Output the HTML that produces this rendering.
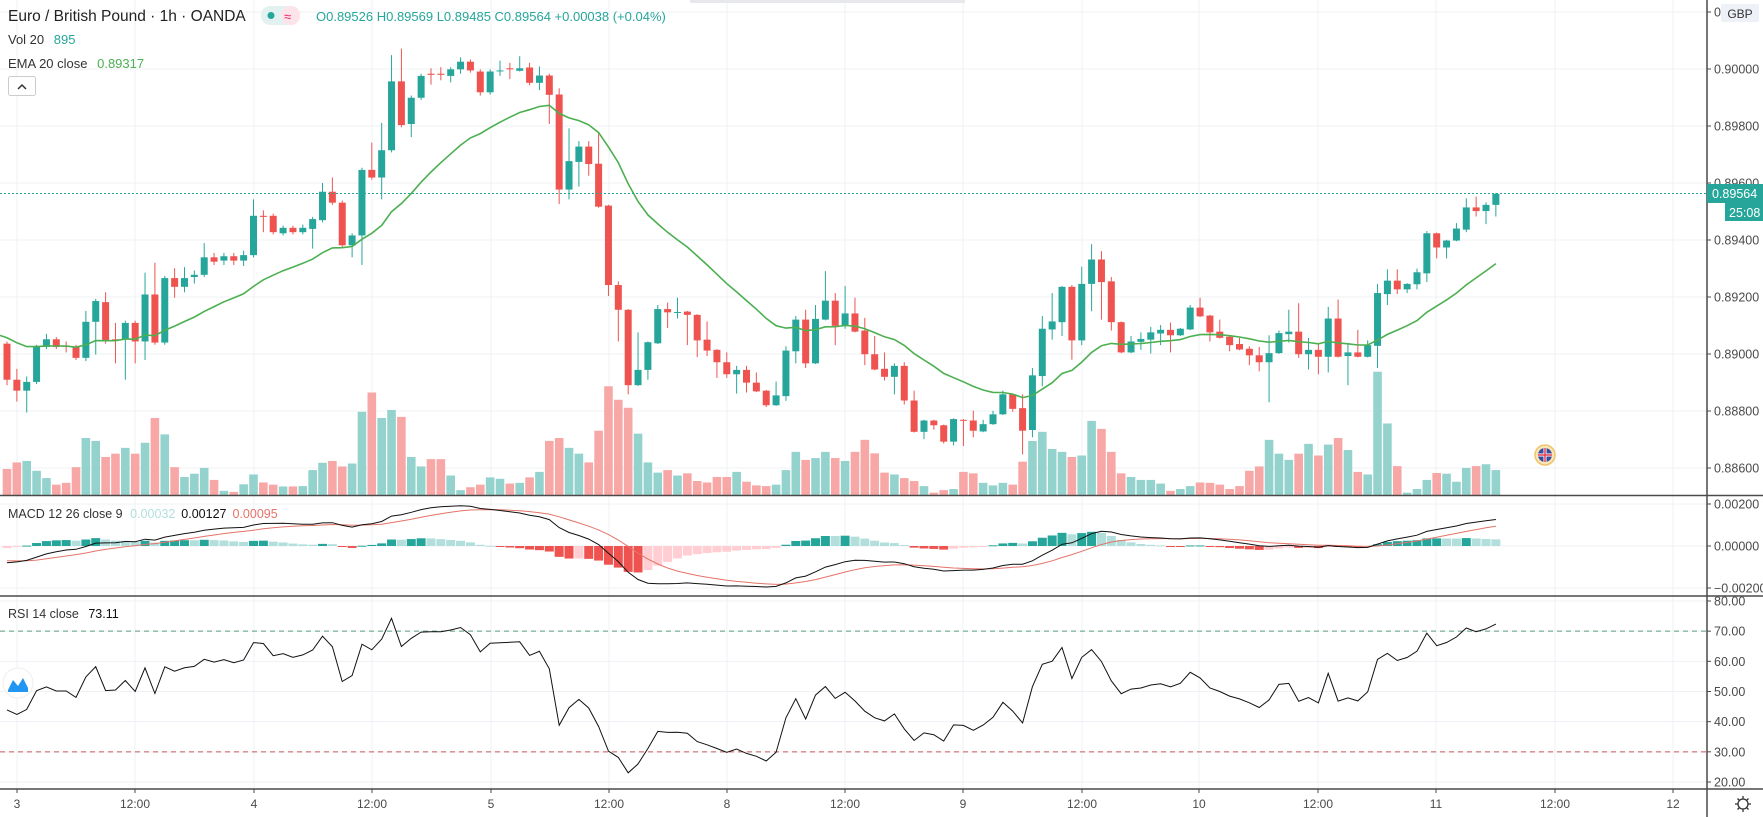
<!DOCTYPE html>
<html><head><meta charset="utf-8">
<style>
html,body{margin:0;padding:0;background:#fff;width:1763px;height:817px;overflow:hidden}
svg{display:block}
text{font-family:"Liberation Sans",sans-serif}
</style></head>
<body>
<svg id="s" width="1763" height="817" xmlns="http://www.w3.org/2000/svg"></svg>
<script>
const S=document.getElementById('s');
let out='';
function add(x){out+=x;}
const toReal=yz=>30+yz/2.745;
const c1=[[317,350,315,355],[350,360,340,370],[360,352,347,380],[352,320,318,354],[320,313,308,322],[313,320,311,322],[319,320,315,325],[320,330,318,332],[330,297,287,333],[297,278,276,327],[279,315,270,317],[313,314,298,335],[313,298,296,350],[298,315,296,335],[315,272,252,332],[272,316,243,318],[316,257,255,318],[257,265,248,275],[265,257,247,270],[256,254,250,262],[254,238,225,256],[238,242,234,245],[241,237,234,245],[237,241,234,245],[241,236,232,246],[236,200,185,238],[200,201,195,215],[200,215,198,217],[216,211,209,218],[211,215,209,217],[215,211,208,217],[212,203,201,230],[204,178,170,206],[178,188,165,190],[188,227,186,229],[227,218,216,238],[218,158,156,245],[158,165,133,167],[165,140,115,185],[140,77,53,142],[77,117,47,119],[116,92,90,128],[92,72,70,94],[70,71,65,80],[70,71,64,76],[72,66,64,78],[66,59,55,70],[59,67,57,69],[68,87,66,90],[87,68,66,89],[67,67,58,72],[65,66,60,75]];
let C=c1.map(a=>a.map(r=>toReal((r-30)*3)));
const c2=[[112,105,72,114],[103,145,90,152],[145,125,100,165],[125,178,120,258],[177,438,160,478],[438,360,270,465],[362,320,305,430],[320,368,305,400],[367,485,280,488],[482,700,480,730],[700,768,690,855],[768,975,766,1000],[975,933,830,977],[933,857,855,960],[860,766,755,862],[766,775,748,818],[774,774,735,792],[773,782,771,865],[782,852,780,898],[850,880,800,895],[878,912,876,955],[912,945,885,955],[945,933,922,998],[933,968,922,995],[968,992,940,994],[990,1030,988,1035],[1030,1003,965,1032],[1005,880,868,1018],[882,795,785,915],[795,915,768,928],[915,793,755,917],[795,743,662,797],[743,812,722,865],[812,778,703,820],[778,828,735,830],[825,890,790,920],[890,932,840,934],[930,952,885,962],[952,922,915,1000],[922,1017,912,1028],[1017,1103,990,1105],[1103,1072,1070,1123],[1072,1085,1070,1097],[1085,1130,1083,1135],[1130,1068,1066,1140],[1070,1071,1068,1142],[1072,1100,1045,1118],[1102,1082,1070,1104],[1082,1055,1045,1084],[1055,1000,990,1057],[1000,1040,998,1048]];
const c3=[[1038,1100,1000,1165],[1098,948,928,1118],[950,820,785,978],[822,800,722,850],[802,705,703,840],[705,852,700,905],[852,697,650,865],[697,630,588,772],[630,692,607,795],[690,802,678,825],[802,885,800,887],[885,855,840,887],[856,848,830,878],[850,830,815,888],[833,823,810,865],[823,838,803,885],[838,820,818,840],[822,762,755,824],[762,786,735,788],[784,830,782,855],[828,845,795,847],[842,865,840,882],[862,877,845,879],[875,893,868,920],[893,912,870,937],[912,887,838,1022],[887,832,825,889],[835,828,768,858],[828,890,750,900],[890,878,845,932],[878,897,862,945],[897,792,760,940],[792,897,740,899],[895,885,862,975],[885,897,823,899],[897,865,852,899],[867,722,697,928],[725,688,657,755],[688,712,657,725],[712,697,695,722],[698,665,655,712],[668,558,552,692],[558,597,556,627],[597,578,576,627],[578,545,530,580],[548,487,462,555],[487,497,457,512],[497,480,473,533],[480,450,447,512]];
C=C.concat(c2.map(a=>a.map(toReal)),c3.map(a=>a.map(toReal)));
const V=[1205,1187,1183,1210,1230,1248,1243,1200,1120,1128,1172,1163,1147,1163,1133,1065,1110,1200,1227,1218,1202,1235,1265,1268,1247,1220,1242,1248,1253,1253,1252,1208,1188,1183,1198,1190,1048,995,1065,1043,1062,1172,1198,1178,1178,1223,1263,1255,1248,1228,1232,1245,1243,1228,1213,1128,1120,1147,1163,1187,1100,978,1015,1037,1108,1187,1215,1208,1223,1217,1238,1242,1227,1227,1213,1240,1250,1252,1248,1208,1158,1180,1175,1158,1175,1183,1158,1125,1162,1215,1220,1230,1238,1252,1270,1263,1260,1213,1217,1243,1250,1243,1248,1185,1128,1103,1150,1158,1172,1168,1073,1095,1158,1217,1227,1235,1235,1245,1265,1260,1252,1242,1243,1248,1260,1252,1210,1198,1125,1163,1180,1163,1136,1168,1138,1120,1153,1213,1220,938,1080,1197,1270,1260,1235,1216,1218,1240,1202,1197,1192,1208];
const N=C.length;
const X=i=>7+9.86*i;
const P=y=>0.9-(y-69)/57.1*0.002;
const Y=p=>69+(0.9-p)/0.002*57.1;
const W=1707;
let g='';
const times=[[17,'3'],[135,'12:00'],[254,'4'],[372,'12:00'],[491,'5'],[609,'12:00'],[727,'8'],[845,'12:00'],[963,'9'],[1082,'12:00'],[1199,'10'],[1318,'12:00'],[1436,'11'],[1555,'12:00'],[1673,'12']];
times.forEach(t=>{g+=`<line x1="${t[0]}" y1="0" x2="${t[0]}" y2="789" stroke="#eef1f6" stroke-width="1"/>`;});
const pt=[[12,'0'],[69,'0.90000'],[126,'0.89800'],[183,'0.89600'],[240,'0.89400'],[297,'0.89200'],[354,'0.89000'],[411,'0.88800'],[468,'0.88600']];
pt.forEach(t=>{g+=`<line x1="0" y1="${t[0]}" x2="${W}" y2="${t[0]}" stroke="#eef1f6"/>`;});
[504,546,588].forEach(y=>g+=`<line x1="0" y1="${y}" x2="${W}" y2="${y}" stroke="#eef1f6"/>`);
const RY=v=>782-(v-20)*3.017;
[80,70,60,50,40,30,20].forEach(v=>g+=`<line x1="0" y1="${RY(v)}" x2="${W}" y2="${RY(v)}" stroke="#eef1f6"/>`);
add(g);
for(let i=0;i<N;i++){const up=C[i][1]<=C[i][0];const t=toReal(V[i]);add(`<rect x="${X(i)-4.3}" y="${t}" width="8.6" height="${495.6-t}" fill="${up?'#94d3cd':'#f7a8a6'}"/>`);}
for(let i=0;i<N;i++){const [o,c,h,l]=C[i];const up=c<=o;const col=up?'#26a69a':'#ef5350';const x=X(i);
add(`<line x1="${x}" y1="${h}" x2="${x}" y2="${l}" stroke="${col}" stroke-width="1"/>`);
const top=Math.min(o,c),bh=Math.max(1,Math.abs(o-c));add(`<rect x="${x-3.5}" y="${top}" width="7" height="${bh}" fill="${col}"/>`);}
const cl=C.map(a=>P(a[1]));
let e=P(337.8),pts=[];const k=2/21;
for(let i=0;i<N;i++){if(i>0)e=cl[i]*k+e*(1-k);pts.push(`${X(i).toFixed(1)},${Y(e).toFixed(1)}`);}
add(`<polyline points="-10,${Y(P(332)).toFixed(1)} ${pts.join(' ')}" fill="none" stroke="#4caf50" stroke-width="1.6"/>`);
add(`<line x1="0" y1="193.5" x2="${W}" y2="193.5" stroke="#26a69a" stroke-dasharray="2,2" stroke-width="1"/>`);
let e12=cl[0]-0.0002,e26=cl[0]+0.0006,sig=-0.0007;const MY=v=>546-v/0.002*42;
let mp=[],sp=[],hist=[];
for(let i=0;i<N;i++){if(i>0){e12=cl[i]*2/13+e12*11/13;e26=cl[i]*2/27+e26*25/27;}
const m=e12-e26;if(i>0)sig=m*0.2+sig*0.8;mp.push(`${X(i).toFixed(1)},${MY(m).toFixed(1)}`);sp.push(`${X(i).toFixed(1)},${MY(sig).toFixed(1)}`);hist.push(m-sig);}
for(let i=0;i<N;i++){const h=hist[i],p=i>0?hist[i-1]:h;let col;
if(h>=0)col=h>=p?'#26a69a':'#b2dfdb';else col=h<p?'#ef5350':'#ffcdd2';
const y1=Math.min(546,MY(h)),hh=Math.max(1,Math.abs(MY(h)-546));add(`<rect x="${X(i)-4.5}" y="${y1}" width="9" height="${hh}" fill="${col}"/>`);}
add(`<polyline points="${sp.join(' ')}" fill="none" stroke="#e57368" stroke-width="1"/>`);
add(`<polyline points="${mp.join(' ')}" fill="none" stroke="#111" stroke-width="1"/>`);
add(`<line x1="0" y1="${RY(70)}" x2="${W}" y2="${RY(70)}" stroke="#5e9c7a" stroke-dasharray="5,4"/>`);
add(`<line x1="0" y1="${RY(30)}" x2="${W}" y2="${RY(30)}" stroke="#c8575a" stroke-dasharray="5,4"/>`);
let ag=0.00036,al=0.00046,rp=[];
for(let i=0;i<N;i++){if(i>0){const d=cl[i]-cl[i-1];ag=(ag*13+Math.max(d,0))/14;al=(al*13+Math.max(-d,0))/14;}
const r=al==0?100:100-100/(1+ag/al);rp.push(`${X(i).toFixed(1)},${RY(r).toFixed(1)}`);}
add(`<polyline points="${rp.join(' ')}" fill="none" stroke="#111" stroke-width="1"/>`);
add(`<rect x="${W}" y="0" width="56" height="817" fill="#fff"/>`);
add(`<rect x="0" y="789" width="1763" height="28" fill="#fff"/>`);
add(`<line x1="0" y1="495.5" x2="1763" y2="495.5" stroke="#4a4a4a" stroke-width="1.5"/>`);
add(`<line x1="0" y1="596" x2="1763" y2="596" stroke="#4a4a4a" stroke-width="1.5"/>`);
add(`<line x1="0" y1="789" x2="1763" y2="789" stroke="#4a4a4a" stroke-width="1.5"/>`);
add(`<line x1="${W}" y1="0" x2="${W}" y2="817" stroke="#4a4a4a" stroke-width="1.5"/>`);
const lab=(y,t)=>add(`<line x1="${W}" y1="${y}" x2="${W+4}" y2="${y}" stroke="#4a4a4a"/><text x="${W+7}" y="${y+4.5}" font-size="12.5" fill="#4a4a4a">${t}</text>`);
pt.forEach(t=>lab(t[0],t[1]));
lab(504,'0.00200');lab(546,'0.00000');lab(588,'\u22120.00200');
[80,70,60,50,40,30,20].forEach(v=>lab(RY(v),v+'.00'));
times.forEach(t=>add(`<line x1="${t[0]}" y1="789" x2="${t[0]}" y2="793" stroke="#4a4a4a"/><text x="${t[0]}" y="808" font-size="12" fill="#4a4a4a" text-anchor="middle">${t[1]}</text>`));
add(`<rect x="1721" y="4" width="38" height="18" rx="2" fill="#eef1f8"/><text x="1740" y="18" font-size="12" fill="#333" text-anchor="middle">GBP</text>`);
add(`<rect x="1707" y="184" width="56" height="19" fill="#26a69a"/><text x="1712" y="198" font-size="12.5" fill="#fff">0.89564</text>`);
add(`<rect x="1725" y="203" width="38" height="18" fill="#26a69a"/><text x="1729" y="217" font-size="12.5" fill="#fff">25:08</text>`);
add(`<circle cx="1743" cy="804" r="5" fill="none" stroke="#333" stroke-width="1.3"/><path d="M1743 796v3M1743 809v3M1735 804h3M1748 804h3M1737.5 798.5l2 2M1746.5 807.5l2 2M1748.5 798.5l-2 2M1737.5 809.5l2-2" stroke="#333" stroke-width="1.3"/>`);
add(`<circle cx="1545" cy="455" r="10" fill="#fbe6b8" stroke="#f0c56a" stroke-width="1.5"/><circle cx="1545" cy="455" r="7" fill="#3a4c9c"/><path d="M1538 455h14M1545 448v14" stroke="#fff" stroke-width="3"/><path d="M1538 455h14M1545 448v14" stroke="#e04050" stroke-width="1.5"/>`);
add(`<circle cx="18" cy="683" r="15" fill="#fff" stroke="#eee"/><path d="M8 690 L13 680 L18 686 L23 678 L28 688 L28 692 L8 692Z" fill="#2196f3"/>`);
add(`<rect x="690" y="0" width="275" height="3" fill="#e6e8ec"/>`);
add(`<text x="8" y="21" font-size="15.5" fill="#222">Euro / British Pound · 1h · OANDA</text>`);
add(`<rect x="261" y="6" width="39" height="19" rx="9" fill="#e3f2f0"/><rect x="281" y="6" width="19" height="19" rx="9" fill="#fde4ea"/><circle cx="271" cy="15.5" r="3.5" fill="#26a69a"/><text x="284" y="21" font-size="13" fill="#e91e63">≈</text>`);
add(`<text x="316" y="21" font-size="13" fill="#26a69a">O0.89526  H0.89569  L0.89485  C0.89564  +0.00038 (+0.04%)</text>`);
add(`<text x="8" y="44" font-size="13" fill="#333">Vol 20 <tspan fill="#26a69a" dx="6">895</tspan></text>`);
add(`<text x="8" y="68" font-size="13" fill="#333">EMA 20 close <tspan fill="#4caf50" dx="6">0.89317</tspan></text>`);
add(`<rect x="8.5" y="76.5" width="27" height="19" rx="2" fill="#fff" stroke="#ccc"/><path d="M18 89l4-4 4 4" fill="none" stroke="#333" stroke-width="1.5"/>`);
add(`<text x="8" y="518" font-size="12.5" fill="#333">MACD 12 26 close 9 <tspan fill="#b2dfdb" dx="4">0.00032</tspan><tspan fill="#111" dx="6">0.00127</tspan><tspan fill="#e57368" dx="6">0.00095</tspan></text>`);
add(`<text x="8" y="618" font-size="12.5" fill="#333">RSI 14 close <tspan fill="#111" dx="6">73.11</tspan></text>`);
S.innerHTML=out;
</script>
</body></html>
